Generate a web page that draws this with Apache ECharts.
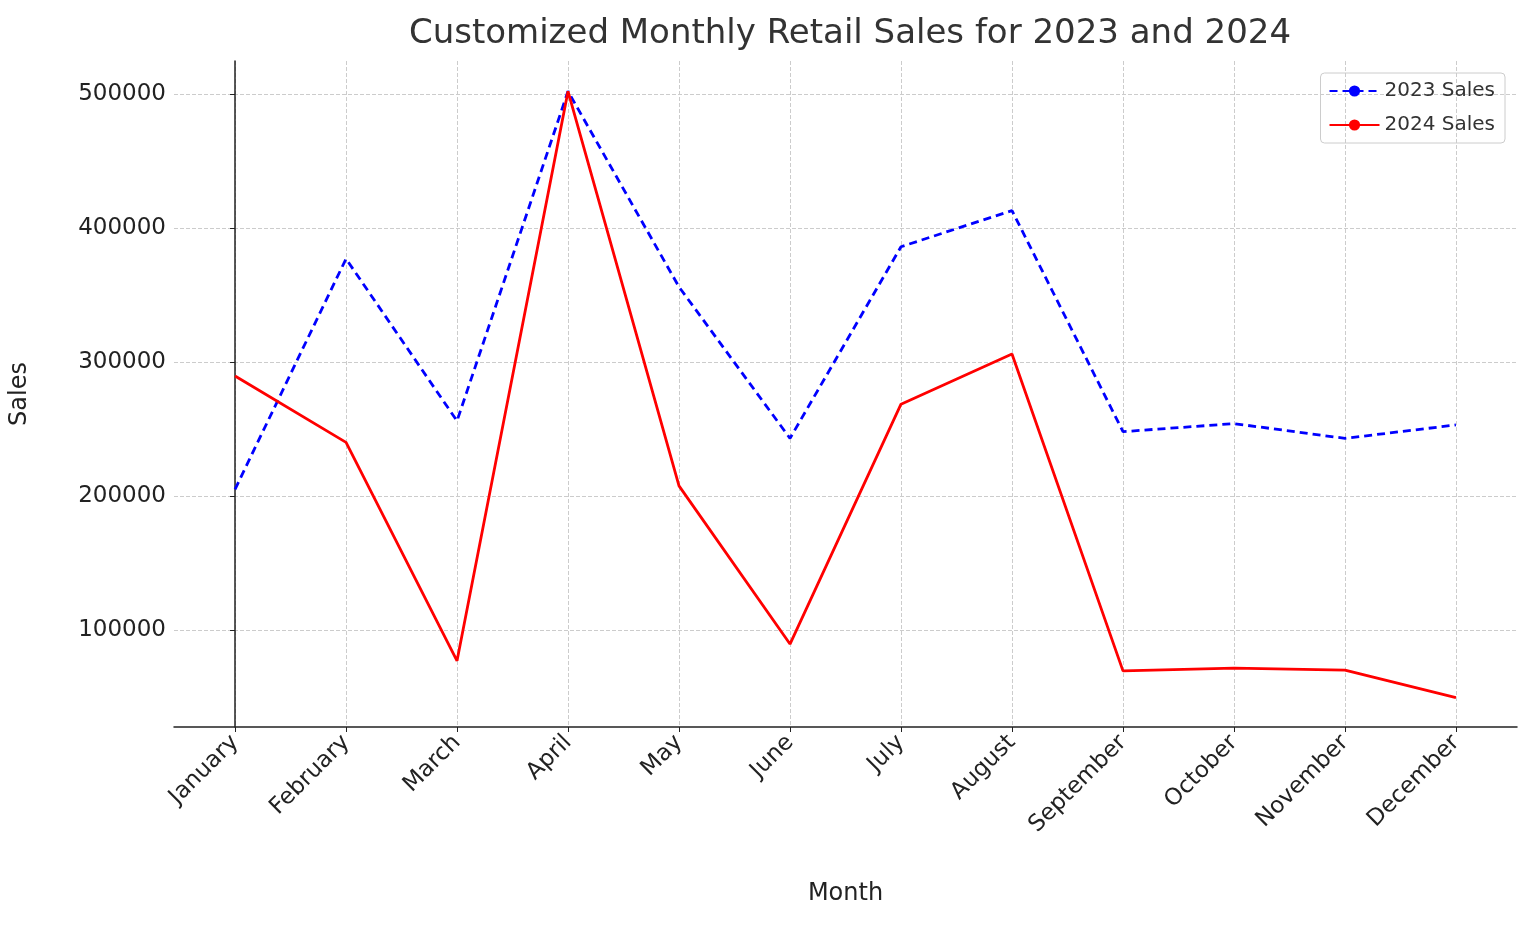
<!DOCTYPE html>
<html><head><meta charset="utf-8">
<script src="https://cdn.jsdelivr.net/npm/echarts@6/dist/echarts.min.js"></script>
<style>html,body{margin:0;padding:0;background:#fff}#c{width:1536px;height:925px}</style>
</head><body><div id="c"></div>
<script>
const months = ['January','February','March','April','May','June','July','August','September','October','November','December'];
const sales2023 = [205000,377000,256000,502000,356000,243000,386000,413000,248000,254000,243000,253000];
const sales2024 = [289500,240000,77000,502000,207500,89500,268500,306000,69500,71500,70000,49500];
const yTicks = [100000,200000,300000,400000,500000];
const xTicks = months.map((m,i)=>i);
const font = 'DejaVu Sans';
const chart = echarts.init(document.getElementById('c'));
chart.setOption({
  animation:false,
  title:{text:'Customized Monthly Retail Sales for 2023 and 2024',left:845,top:12,textAlign:'center',
    textStyle:{fontFamily:font,fontSize:34,fontWeight:'normal',color:'#333'}},
  legend:{right:31,top:73,orient:'vertical',itemWidth:50,itemGap:14,
    borderColor:'#ccc',borderWidth:1,borderRadius:4,padding:[8,10,8,8],
    textStyle:{fontFamily:font,fontSize:20,color:'#333'},
    data:['2023 Sales','2024 Sales']},
  grid:{left:174,right:19,top:61,bottom:198},
  xAxis:{type:'value',min:-0.55,max:11.55,name:'Month',nameLocation:'middle',nameGap:155,
    nameTextStyle:{fontFamily:font,fontSize:24,color:'#222'},
    axisLine:{lineStyle:{color:'#222',width:1.5}},
    axisTick:{show:true,customValues:xTicks,lineStyle:{color:'#222'}},
    axisLabel:{customValues:xTicks,formatter:v=>months[v],rotate:45,fontFamily:font,fontSize:23,color:'#222',margin:12},
    splitLine:{show:true,lineStyle:{type:'dashed',color:'#ccc'}}},
  yAxis:{type:'value',min:27600,max:524600,name:'Sales',nameLocation:'middle',nameGap:142,
    nameTextStyle:{fontFamily:font,fontSize:24,color:'#222'},
    axisLine:{show:true,lineStyle:{color:'#222',width:1.5}},
    axisTick:{show:true,customValues:yTicks,lineStyle:{color:'#222'}},
    axisLabel:{customValues:yTicks,formatter:v=>String(v),fontFamily:font,fontSize:23,color:'#222'},
    splitLine:{show:true,lineStyle:{type:'dashed',color:'#ccc'}}},
  series:[
    {name:'2023 Sales',type:'line',data:sales2023.map((v,i)=>[i,v]),symbol:'none',color:'#0000ff',
     lineStyle:{type:[8,5],width:2.8,color:'#0000ff'}},
    {name:'2024 Sales',type:'line',data:sales2024.map((v,i)=>[i,v]),symbol:'none',color:'#ff0000',
     lineStyle:{width:2.8,color:'#ff0000'}}
  ]
});
</script></body></html>
